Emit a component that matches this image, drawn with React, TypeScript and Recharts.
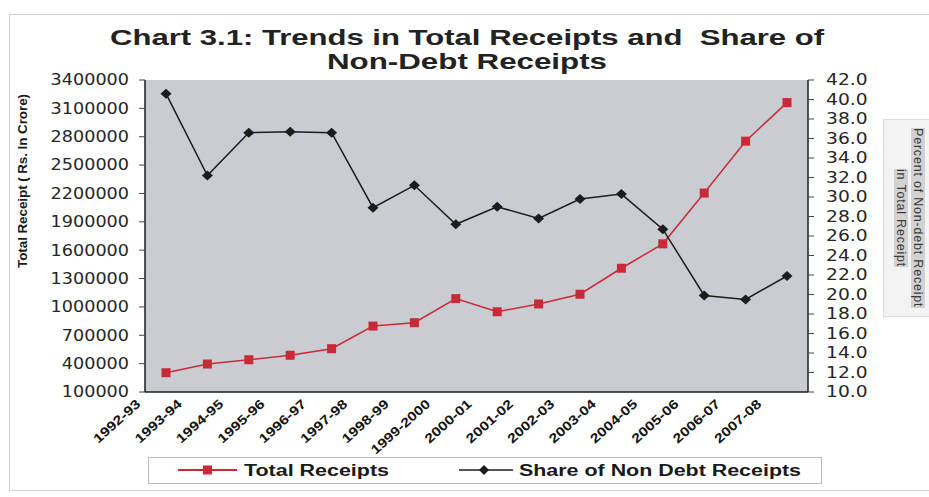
import { LineChart, Line, XAxis, YAxis, CartesianGrid } from 'recharts'

const years = [
  '1992-93', '1993-94', '1994-95', '1995-96', '1996-97', '1997-98', '1998-99', '1999-2000',
  '2000-01', '2001-02', '2002-03', '2003-04', '2004-05', '2005-06', '2006-07', '2007-08',
]
// Rs. in crore
const totalReceipts = [
  304000, 396000, 441000, 489000, 558000, 797000, 833000, 1088000,
  949000, 1031000, 1134000, 1409000, 1667000, 2204000, 2753000, 3161000,
]
// percent of non-debt receipts in total receipt
const nonDebtShare = [
  40.6, 32.2, 36.6, 36.7, 36.6, 28.9, 31.2, 27.2,
  29.0, 27.8, 29.8, 30.3, 26.7, 19.9, 19.5, 21.9,
]
const leftTicks = [100000, 400000, 700000, 1000000, 1300000, 1600000, 1900000, 2200000, 2500000, 2800000, 3100000, 3400000]
const rightTicks = [10, 12, 14, 16, 18, 20, 22, 24, 26, 28, 30, 32, 34, 36, 38, 40, 42]

const data = years.map((year, i) => ({ year, total: totalReceipts[i], share: nonDebtShare[i] }))

const RED = '#c92a37'
const INK = '#1c1c1c'

// the scanned chart has a wide, stretched type; textLength mimics it
const LeftTick = (props: any) => {
  const { x, y, payload } = props
  const s = String(payload.value)
  return (
    <text x={x} y={y} dy="0.36em" textAnchor="end" fontFamily="DejaVu Sans" fontSize={15} fill="#262626"
      textLength={s.length * 11.2} lengthAdjust="spacingAndGlyphs">
      {s}
    </text>
  )
}

const RightTick = (props: any) => {
  const { x, y, payload } = props
  const s = Number(payload.value).toFixed(1)
  return (
    <text x={x} y={y} dy="0.36em" textAnchor="start" fontFamily="DejaVu Sans" fontSize={15} fill="#262626"
      textLength={s.length * 10.4} lengthAdjust="spacingAndGlyphs">
      {s}
    </text>
  )
}

const YearTick = (props: any) => {
  const { x, y, payload } = props
  const s = String(payload.value)
  const ax = x - 31
  const ay = y - 2
  return (
    <text
      x={ax}
      y={ay}
      transform={`rotate(-42, ${ax}, ${ay})`}
      textAnchor="end"
      dominantBaseline="hanging"
      fontFamily="Liberation Sans"
      fontWeight="bold"
      fontSize={13}
      fill="#141414"
      textLength={s.length * 8.3}
      lengthAdjust="spacingAndGlyphs"
    >
      {s}
    </text>
  )
}

const SquareDot = (props: any) => {
  const { cx, cy, index } = props
  return <rect key={`sq-${index}`} x={cx - 4.5} y={cy - 4.5} width={9} height={9} fill={RED} />
}

const DiamondDot = (props: any) => {
  const { cx, cy, index } = props
  return (
    <path
      key={`dm-${index}`}
      d={`M${cx},${cy - 5} L${cx + 5.5},${cy} L${cx},${cy + 5} L${cx - 5.5},${cy} Z`}
      fill={INK}
    />
  )
}

export default function App() {
  return (
    <div style={{ position: 'absolute', left: 0, top: 0, width: 929, height: 497, background: '#fff', overflow: 'hidden' }}>
      {/* faint outer frame */}
      <div style={{ position: 'absolute', left: 9, top: 14, width: 940, height: 475, border: '1px solid #d2d2d2' }} />

      {/* title */}
      <svg width={929} height={80} style={{ position: 'absolute', left: 0, top: 0 }}>
        <g fontFamily="Liberation Sans" fontWeight="bold" fontSize={22} fill="#222" textAnchor="middle">
          <text x={467} y={45} textLength={714} lengthAdjust="spacingAndGlyphs">
            {'Chart 3.1: Trends in Total Receipts and\u00a0 Share of'}
          </text>
          <text x={467} y={69} textLength={280} lengthAdjust="spacingAndGlyphs">
            Non-Debt Receipts
          </text>
        </g>
      </svg>

      <div
        style={{
          position: 'absolute',
          left: 22,
          top: 181,
          transform: 'translate(-50%, -50%) rotate(-90deg)',
          fontFamily: 'Liberation Sans',
          fontWeight: 'bold',
          fontSize: 13.5,
          letterSpacing: -0.1,
          color: '#1a1a1a',
          whiteSpace: 'nowrap',
        }}
      >
        Total Receipt ( Rs. In Crore)
      </div>

      <div
        style={{
          position: 'absolute',
          left: 883,
          top: 119,
          width: 60,
          height: 198,
          background: '#f3f3f3',
          border: '1px solid #dcdcdc',
          display: 'flex',
          alignItems: 'center',
          justifyContent: 'flex-start',
          paddingLeft: 8,
          boxSizing: 'border-box',
        }}
      >
        <div
          style={{
            writingMode: 'vertical-rl',
            textAlign: 'center',
            fontFamily: 'Liberation Sans',
            fontSize: 12.5,
            lineHeight: '17px',
            letterSpacing: 0.8,
            color: '#3a3a3a',
            height: 196,
          }}
        >
          <span style={{ background: '#d2d2d2' }}>Percent of Non-debt Receipt</span>
          <br />
          <span style={{ background: '#d2d2d2' }}>in Total Receipt</span>
        </div>
      </div>

      <LineChart width={929} height={497} data={data} margin={{ top: 80, right: 51, bottom: 45, left: 45 }}>
        <CartesianGrid horizontal={false} vertical={false} fill="#c9cdd2" />
        <XAxis
          dataKey="year"
          interval={0}
          height={60}
          padding={{ left: 21, right: 21 }}
          tick={<YearTick />}
          tickLine={false}
          axisLine={{ stroke: INK, strokeWidth: 1.5 }}
        />
        <XAxis
          xAxisId="top"
          orientation="top"
          dataKey="year"
          height={0}
          tick={false}
          tickLine={false}
          axisLine={{ stroke: INK, strokeWidth: 1.5 }}
        />
        <YAxis
          yAxisId="left"
          width={100}
          domain={[100000, 3400000]}
          ticks={leftTicks}
          interval={0}
          tick={<LeftTick />}
          tickMargin={10}
          tickLine={{ stroke: '#444' }}
          axisLine={{ stroke: INK, strokeWidth: 1.5 }}
        />
        <YAxis
          yAxisId="right"
          orientation="right"
          width={70}
          domain={[10, 42]}
          ticks={rightTicks}
          interval={0}
          tick={<RightTick />}
          tickMargin={12}
          tickLine={{ stroke: '#444' }}
          axisLine={{ stroke: INK, strokeWidth: 1.5 }}
        />
        <Line
          yAxisId="left"
          dataKey="total"
          type="linear"
          stroke={RED}
          strokeWidth={1.5}
          dot={SquareDot}
          isAnimationActive={false}
        />
        <Line
          yAxisId="right"
          dataKey="share"
          type="linear"
          stroke={INK}
          strokeWidth={1.5}
          dot={DiamondDot}
          isAnimationActive={false}
        />
      </LineChart>

      {/* legend */}
      <div
        style={{
          position: 'absolute',
          left: 148,
          top: 457,
          width: 674,
          height: 27,
          border: '1px solid #bdbdbd',
          boxSizing: 'border-box',
          background: '#fff',
        }}
      >
        <svg width={672} height={25} style={{ position: 'absolute', left: 0, top: 0 }}>
          <line x1={29} y1={12} x2={88} y2={12} stroke={RED} strokeWidth={2} />
          <rect x={54} y={7.5} width={9} height={9} fill={RED} />
          <line x1={310} y1={12} x2={364} y2={12} stroke={INK} strokeWidth={1.5} />
          <path d="M335,7 L340,12 L335,17 L330,12 Z" fill={INK} />
          <g fontFamily="Liberation Sans" fontWeight="bold" fontSize={16} fill="#1a1a1a">
            <text x={95} y={18} textLength={145} lengthAdjust="spacingAndGlyphs">Total Receipts</text>
            <text x={370} y={18} textLength={282} lengthAdjust="spacingAndGlyphs">Share of Non Debt Receipts</text>
          </g>
        </svg>
      </div>
    </div>
  )
}
